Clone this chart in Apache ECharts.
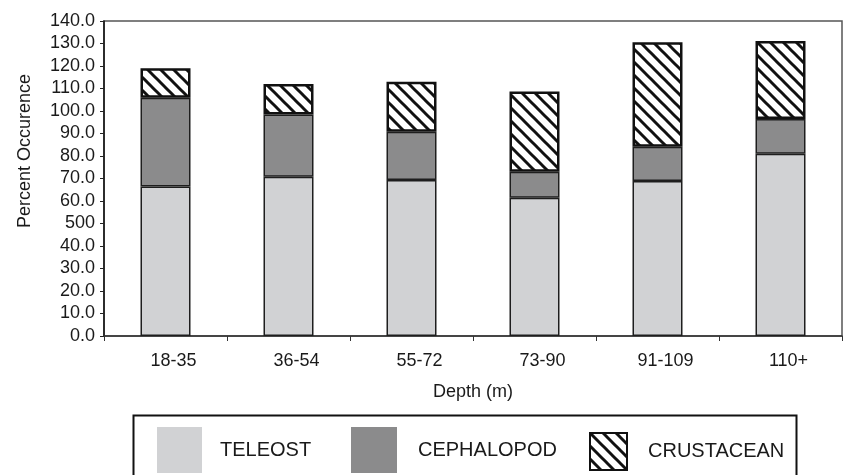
<!DOCTYPE html>
<html>
<head>
<meta charset="utf-8">
<script src="https://cdn.jsdelivr.net/npm/echarts@6/dist/echarts.min.js"></script>
<style>
html,body{margin:0;padding:0;background:#fff;}
#chart{width:844px;height:475px;}
</style>
</head>
<body>
<div id="chart"></div>
<script>
const categories = ['18-35', '36-54', '55-72', '73-90', '91-109', '110+'];
const teleost = [66.4, 70.8, 69.3, 61.5, 68.9, 81.0];
const cephalopod = [39.5, 27.7, 21.5, 11.5, 15.2, 15.4];
const crustacean = [13.1, 13.5, 22.2, 35.7, 46.4, 34.7];
const yTickLabels = ['0.0', '10.0', '20.0', '30.0', '40.0', '500', '60.0', '70.0', '80.0', '90.0', '100.0', '110.0', '120.0', '130.0', '140.0'];
const seriesNames = ['TELEOST', 'CEPHALOPOD', 'CRUSTACEAN'];

function makeHatch() {
  const p = 13;
  const c = document.createElement('canvas');
  c.width = p; c.height = p;
  const ctx = c.getContext('2d');
  ctx.fillStyle = '#ffffff';
  ctx.fillRect(0, 0, p, p);
  ctx.strokeStyle = '#111111';
  ctx.lineWidth = 3;
  for (let k = -1; k <= 1; k++) {
    ctx.beginPath();
    ctx.moveTo(k * p - 2, -2);
    ctx.lineTo(k * p + p + 2, p + 2);
    ctx.stroke();
  }
  return c;
}
const hatch = { image: makeHatch(), repeat: 'repeat' };

const font = 'Liberation Sans, Arial, Helvetica, sans-serif';
const chart = echarts.init(document.getElementById('chart'), null, { renderer: 'canvas' });

const option = {
  animation: false,
  backgroundColor: '#ffffff',
  textStyle: { fontFamily: font, color: '#1a1a1a' },
  grid: {
    left: 104, right: 2, top: 21, bottom: 139,
    show: true, borderColor: '#555555', borderWidth: 1.5, containLabel: false
  },
  xAxis: {
    type: 'category',
    data: categories,
    name: 'Depth (m)',
    nameLocation: 'middle',
    nameGap: 47,
    nameTextStyle: { fontSize: 18, color: '#1a1a1a', fontFamily: font },
    axisLine: { lineStyle: { color: '#333333', width: 1.5 } },
    axisTick: { show: true, alignWithLabel: false, length: 5, lineStyle: { color: '#333333', width: 1 } },
    axisLabel: { fontSize: 18, color: '#1a1a1a', margin: 16, padding: [0, 0, 0, 16], fontFamily: font },
    splitLine: { show: false }
  },
  yAxis: {
    type: 'value',
    min: 0, max: 140, interval: 10,
    axisLine: { show: true, lineStyle: { color: '#111111', width: 1.5 } },
    axisTick: { show: true, length: 4, lineStyle: { color: '#222222', width: 1 } },
    axisLabel: {
      fontSize: 18, color: '#1a1a1a', margin: 9, fontFamily: font,
      formatter: function (v) { return yTickLabels[Math.round(v / 10)]; }
    },
    splitLine: { show: false }
  },
  legend: [
    {
      data: [seriesNames[0]], left: 152, top: 422, itemWidth: 45, itemHeight: 46, icon: 'rect',
      itemStyle: { borderWidth: 0 },
      textStyle: { fontSize: 20, color: '#1a1a1a', padding: [0, 0, 0, 13], fontFamily: font },
      selectedMode: false
    },
    {
      data: [seriesNames[1]], left: 346, top: 422, itemWidth: 46, itemHeight: 46, icon: 'rect',
      itemStyle: { borderWidth: 0 },
      textStyle: { fontSize: 20, color: '#1a1a1a', padding: [0, 0, 0, 16], fontFamily: font },
      selectedMode: false
    },
    {
      data: [seriesNames[2]], left: 584, top: 427, itemWidth: 37, itemHeight: 37, icon: 'rect',
      itemStyle: { borderColor: '#111111', borderWidth: 2 },
      textStyle: { fontSize: 20, color: '#1a1a1a', padding: [0, 0, 0, 16], fontFamily: font },
      selectedMode: false
    }
  ],
  graphic: [
    {
      type: 'rect', left: 131, top: 413,
      shape: { width: 663, height: 100 },
      style: { fill: 'none', stroke: '#111111', lineWidth: 2 },
      silent: true
    },
    {
      type: 'text', x: 25, y: 151, rotation: Math.PI / 2,
      style: { text: 'Percent Occurence', fontSize: 18, fontFamily: font, fill: '#1a1a1a', align: 'center', verticalAlign: 'middle' },
      silent: true
    }
  ],
  series: [
    {
      name: seriesNames[0], type: 'bar', stack: 'total', data: teleost, barWidth: 50,
      itemStyle: { color: '#d1d2d4', borderColor: '#1e1e1e', borderWidth: 1.5 }
    },
    {
      name: seriesNames[1], type: 'bar', stack: 'total', data: cephalopod, barWidth: 50,
      itemStyle: { color: '#8b8b8c', borderColor: '#1e1e1e', borderWidth: 1.5 }
    },
    {
      name: seriesNames[2], type: 'bar', stack: 'total', data: crustacean, barWidth: 50,
      itemStyle: { color: hatch, borderColor: '#111111', borderWidth: 2.5 }
    }
  ]
};
chart.setOption(option);
</script>
</body>
</html>
